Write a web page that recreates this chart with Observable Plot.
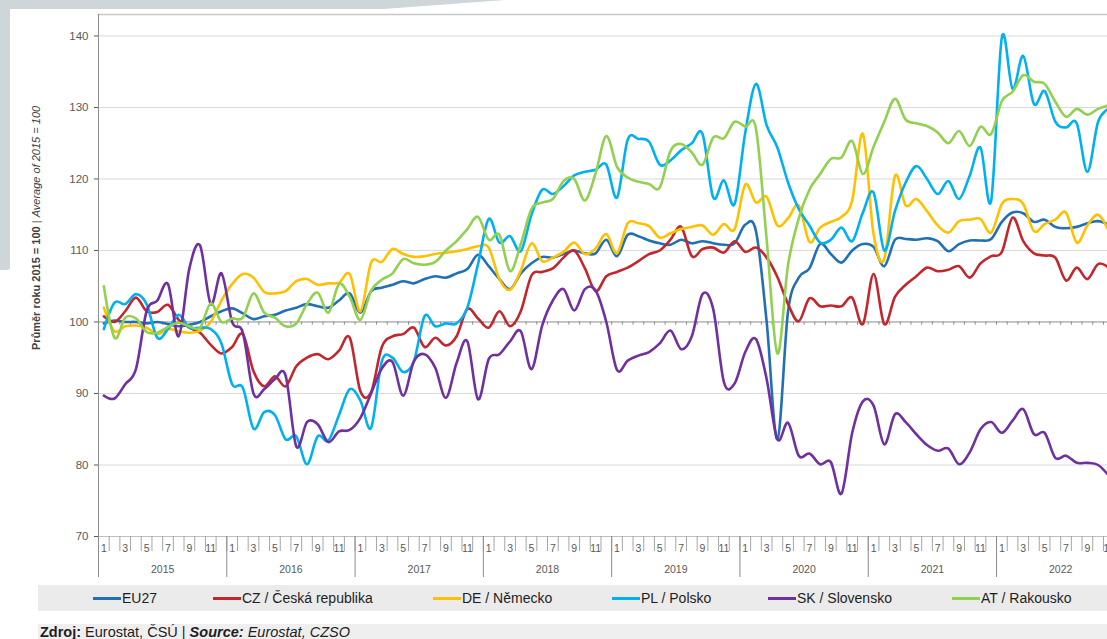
<!DOCTYPE html>
<html>
<head>
<meta charset="utf-8">
<script src="https://cdn.jsdelivr.net/npm/d3@7"></script>
<script src="https://cdn.jsdelivr.net/npm/@observablehq/plot@0.6"></script>
<style>
  html, body { margin: 0; padding: 0; background: #ffffff; }
  body { width: 1107px; height: 639px; overflow: hidden; position: relative; font-family: "Liberation Sans", Arial, sans-serif; }
  #bgTop { position: absolute; left: 0; top: 0; width: 505px; height: 9px; background: #cfd6da; clip-path: polygon(0 0, 100% 0, 76% 100%, 0 100%); }
  #bgLeft { position: absolute; left: 0; top: 0; width: 10px; height: 270px; background: #cfd6da; border-bottom-right-radius: 3px; }
  #chart { position: absolute; left: 0; top: 0; }
  #ytitle { position: absolute; left: 36px; top: 228px; transform: translate(-50%, -50%) rotate(-90deg); white-space: nowrap; font-size: 11px; color: #404040; }
  #legend { position: absolute; left: 38px; top: 585px; width: 1069px; height: 26px; background: #ebebeb; }
  .item { position: absolute; top: 0; height: 26px; display: flex; align-items: center; font-size: 14px; color: #1e1e1e; white-space: nowrap; }
  .sw { display: inline-block; width: 28px; height: 3px; margin-right: 1px; }
  #source { position: absolute; left: 38px; top: 624px; width: 1069px; height: 20px; background: #efefef; font-size: 14.5px; color: #1e1e1e; white-space: nowrap; }
  #source span.t { position: absolute; left: 2px; top: 0px; }
</style>
</head>
<body>
<div id="bgTop"></div>
<div id="bgLeft"></div>
<div id="chart"></div>
<div id="ytitle"><b>Průměr roku 2015 = 100</b> | <i>Average of 2015 = 100</i></div>
<div id="legend"></div>
<div id="source"><span class="t"><b>Zdroj:</b> Eurostat, ČSÚ | <b><i>Source:</i></b> <i>Eurostat, CZSO</i></span></div>
<script>
// ---- categories / labels ----
const years = ["2015", "2016", "2017", "2018", "2019", "2020", "2021", "2022"];
const monthLabels = ["1", "", "3", "", "5", "", "7", "", "9", "", "11", ""];
const seriesNames = ["EU27", "CZ / Česká republika", "DE / Německo", "PL / Polsko", "SK / Slovensko", "AT / Rakousko"];
const seriesColors = ["#2170b5", "#c1272d", "#ffc000", "#00b0f0", "#7030a0", "#92d050"];
const yTicks = [70, 80, 90, 100, 110, 120, 130, 140];

// ---- monthly values, Jan 2015 onwards (2015 = 100) ----
const eu27 = [99.8,100.2,100,100,99.8,100,99.7,99.4,99.6,100,100.8,101.5,
  101.9,101.2,100.4,100.8,101,101.6,102,102.5,102.2,102,103,104,
  101.3,104.3,104.8,105.2,105.7,105.4,106,106.4,106.2,106.8,107.4,109.4,
  107.8,106,104.6,106.8,108.2,109.1,109,109.5,110,109.6,109.6,111.5,
  109.2,112.2,112,111.4,111,110.8,111.5,111,111.3,111,110.8,111,
  113.6,112.7,100,83.6,101.5,106.2,107.5,110.9,109.5,108.3,110,110.9,
  110.5,107.8,111.5,111.6,111.5,111.7,111.3,109.9,110.9,111.4,111.4,111.6,
  114,115.3,115.2,114,114.3,113.3,113.1,113.3,113.8,114.1,113.6];
const cz = [100.8,100,101.5,103.4,101.5,101.4,102.4,100.3,99.2,98.5,96.8,95.6,
  96.5,98.3,93.1,91,92.4,91,93.8,95,95.5,94.8,96,97.8,
  90.3,90.2,96.5,98,98.3,99.2,96.5,97.8,96.7,98,101.8,100.5,
  99.2,101.5,99.4,101.5,106.5,107,107.5,109,110,107.5,104.3,106.4,
  107,107.6,108.5,109.5,110,111.5,113.3,109.2,110.2,110.4,109.7,111.3,
  109.8,110.4,109,106.3,102.5,100.1,103.3,102.2,102.3,102.2,103.4,99.7,
  106.7,99.7,103.5,105.2,106.4,107.6,107.1,107.3,107.8,106.2,108.2,109.2,
  109.8,114.6,111.3,109.6,109.3,109,105.8,107.6,106,108.1,107.6];
const de = [102,98.7,99.4,99.5,99.2,98.3,99,98.7,98.5,98.8,100,103,
  105.3,106.7,106.2,104.2,104,104.3,105.7,106,105.2,105.4,105.5,106.7,
  101.5,108.3,108.4,110.2,109.5,109.1,109.2,109.5,109.7,109.9,110.2,110.6,
  110.4,106,104.5,107.2,111,108.5,109,109.8,111.1,109.5,110.3,112.3,
  109.6,113.8,113.8,113.4,111.8,112.4,113,113.3,113.5,112.2,113.7,113,
  119.2,116.7,117.5,113.5,114.5,116.3,111.2,113.2,114,114.7,117,126.3,
  112.3,108.8,120.4,116.3,117.2,115.5,113.5,112.5,114.1,114.3,114.4,112.5,
  116.5,117.2,116.5,112.7,113.7,114.3,115.3,111.1,113.5,115,112.7];
const pl = [99,102.7,102.5,103.9,102.5,97.8,99,101,99.2,99.2,99,97,
  91.3,90.8,85.1,87.4,87,83.6,84,80.1,84,83.4,87,90.6,
  89,85.2,94.5,95,93,94.5,100.8,99.4,99.8,99.8,102,108.1,
  114.4,111.1,112,109.9,115,118.5,117.9,119,120.5,121,121.3,122,
  117.4,125.5,125.6,125.2,122,122.6,124,125,126.3,117.4,119.8,116.5,
  126.5,133.3,127.5,124.4,119.5,115.8,113.5,111.1,111.5,113.2,111.3,115.3,
  118.1,110,115.5,119.5,121.8,120,117.9,119.7,117.2,120.5,124.4,117,
  139.8,132.6,137.2,130.5,132.3,128,127.2,127.8,121,128,129.8];
const sk = [89.7,89.3,91.3,93.4,101.5,103,105.3,98,107.5,110.7,102.5,106.8,
  100,98.5,90,90.6,92,92.5,82.6,86,85.7,83.2,84.7,84.9,
  86.6,90,93.5,94.4,89.7,94.5,95.5,93.6,89.4,94.3,97.3,89.2,
  94.8,95.5,97.3,98.7,93.4,99.5,103,104.6,101.6,104.6,104.4,100,
  93.3,94.6,95.3,95.8,97,98.8,96.2,98,103.9,101.8,91.6,91.4,
  95.8,97.6,92,83.6,85.9,81.3,81.6,80.1,80.4,76,84.5,88.9,
  88.3,82.9,87.1,86,84.3,82.8,82,82.3,80.1,81.8,85,86,
  84.5,86.2,87.8,84.3,84.5,81,81.3,80.3,80.3,80,78.5];
const at = [105,97.8,100.6,100.5,98.6,98.5,99.3,99.9,99.4,99.2,102.6,100,
  100.5,100.6,104,101.3,100.6,99.4,99.8,102.5,104.1,101.3,105.3,103.5,
  100.3,104.4,105.9,106.8,108.8,108.2,108,108.4,110,111.3,113,114.7,
  111.5,112.2,107.1,110.9,115.8,116.7,117.2,119.7,120,117,120.8,126,
  121.7,120.2,119.6,119.3,118.8,123.9,124.9,123.7,122,125.8,125.7,128,
  127.3,127,111.5,95.6,108,114.5,118.5,120.7,122.8,123,125.3,120.7,
  124.5,128,131.2,128.3,127.8,127.4,126.5,125,126.7,124.6,127.3,126.3,
  130.9,132.2,134.5,133.6,133.3,130.8,128.7,129.8,129,129.8,130.3];

const seriesValues = [eu27, cz, de, pl, sk, at];

// ---- table for Plot ----
const rows = [];
seriesNames.forEach((name, s) => {
  seriesValues[s].forEach((v, i) => rows.push({series: name, i, v}));
});

const nMonths = years.length * 12;
const monthIdx = d3.range(nMonths);
const monthBounds = monthIdx.map(i => i - 0.5);
const yearBounds = years.map((y, k) => k * 12 - 0.5);
const oddMonths = monthIdx.filter(i => monthLabels[i % 12] !== "");
const yearCenters = years.map((y, k) => k * 12 + 5.5);

const grey = "#595959";

const chart = Plot.plot({
  width: 1107,
  height: 585,
  marginLeft: 98,
  marginRight: 0,
  marginTop: 14,
  marginBottom: 49,
  style: {background: "transparent", overflow: "visible", fontFamily: "'Liberation Sans', Arial, sans-serif"},
  x: {type: "linear", domain: [-0.5, 93.88], axis: null},
  y: {domain: [70, 143], axis: null},
  color: {domain: seriesNames, range: seriesColors},
  marks: [
    Plot.ruleY([80, 90, 110, 120, 130, 140], {stroke: "#d9d9d9", strokeWidth: 1}),
    Plot.ruleY([143], {stroke: "#c8c8c8", strokeWidth: 1.5}),
    Plot.ruleY([70], {stroke: "#bfbfbf", strokeWidth: 1}),
    Plot.ruleY([100], {stroke: "#8c8c8c", strokeWidth: 1}),
    Plot.ruleX(monthBounds, {x: d => d, y1: 100, y2: 99.55, stroke: "#8c8c8c", strokeWidth: 1}),
    Plot.ruleX([-0.5], {stroke: "#8c8c8c", strokeWidth: 1}),
    Plot.axisY(yTicks, {anchor: "left", label: null, tickSize: 4, tickPadding: 6, fontSize: 11.5, color: grey}),
    Plot.axisX(monthBounds, {anchor: "bottom", label: null, tickSize: 15, tickFormat: () => "", stroke: "#a6a6a6"}),
    Plot.axisX(yearBounds, {anchor: "bottom", label: null, tickSize: 41, tickFormat: () => "", stroke: "#8c8c8c"}),
    Plot.axisX(oddMonths, {anchor: "bottom", label: null, tickSize: 0, tickPadding: 8, fontSize: 10.5, color: grey, tickFormat: i => monthLabels[i % 12]}),
    Plot.axisX(yearCenters, {anchor: "bottom", label: null, tickSize: 0, tickPadding: 29, fontSize: 10.5, color: grey, tickFormat: d => years[Math.round((d - 5.5) / 12)]}),
    Plot.line(rows, {x: "i", y: "v", z: "series", stroke: "series", curve: "cardinal", tension: 0, strokeWidth: 2.6, clip: true, strokeLinejoin: "round", strokeLinecap: "round"})
  ]
});
document.getElementById("chart").appendChild(chart);

// ---- legend ----
const legendLeft = [93, 213, 433, 612, 768, 952];
const legend = document.getElementById("legend");
seriesNames.forEach((name, s) => {
  const it = document.createElement("div");
  it.className = "item";
  it.style.left = (legendLeft[s] - 38) + "px";
  const sw = document.createElement("span");
  sw.className = "sw";
  sw.style.background = seriesColors[s];
  it.appendChild(sw);
  it.appendChild(document.createTextNode(name));
  legend.appendChild(it);
});
</script>
</body>
</html>
